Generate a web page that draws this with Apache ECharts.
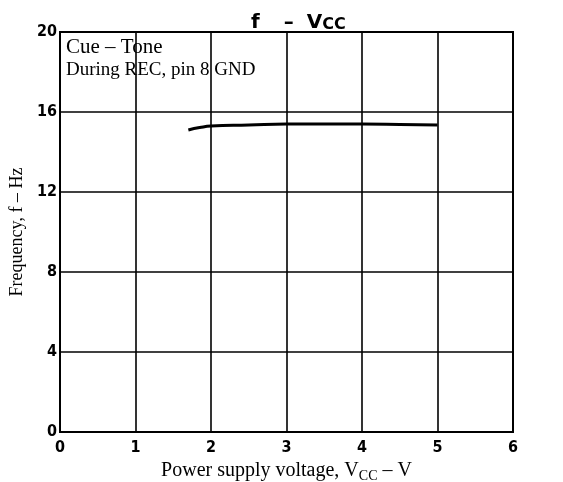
<!DOCTYPE html>
<html>
<head>
<meta charset="utf-8">
<script src="https://cdn.jsdelivr.net/npm/echarts@6/dist/echarts.min.js"></script>
<style>
  html, body { margin: 0; padding: 0; background: #fff; }
  #chart { width: 563px; height: 482px; }
</style>
</head>
<body>
<div id="chart"></div>
<script>
// Supply voltage (V) and resulting cue-tone frequency (Hz)
const vccValues = [1.7, 1.85, 2.0, 2.5, 3.0, 3.5, 4.0, 4.5, 5.0];
const freqValues = [15.1, 15.22, 15.3, 15.35, 15.4, 15.4, 15.4, 15.38, 15.35];
const xTicks = [0, 1, 2, 3, 4, 5, 6];
const yTicks = [0, 4, 8, 12, 16, 20];

const serif = '"Liberation Serif", "DejaVu Serif", serif';
const sans = '"DejaVu Sans", "Liberation Sans", sans-serif';
const condensed = '"DejaVu Sans Condensed", "DejaVu Sans", sans-serif';

const chart = echarts.init(document.getElementById('chart'), null, { renderer: 'canvas' });

chart.setOption({
  backgroundColor: '#fff',
  animation: false,
  title: {
    text: '{m|f}{d|–}{m|V}{s|CC}',
    left: 246,
    top: 3,
    textStyle: {
      rich: {
        m: { fontFamily: sans, fontSize: 20, color: '#000', fontWeight: 'bold', verticalAlign: 'bottom' },
        d: { fontFamily: sans, fontSize: 20, color: '#000', fontWeight: 'bold', padding: [0, 13, 0, 24], verticalAlign: 'bottom' },
        s: { fontFamily: sans, fontSize: 16, color: '#000', fontWeight: 'bold', padding: [9, 0, 0, 0], verticalAlign: 'bottom' }
      }
    }
  },
  grid: { left: 60, right: 50, top: 32, bottom: 50, containLabel: false, outerBoundsMode: 'none' },
  xAxis: {
    type: 'value',
    min: xTicks[0],
    max: xTicks[xTicks.length - 1],
    interval: 1,
    name: '{t|Power supply voltage, V}{s|CC}{t| – V}',
    nameLocation: 'middle',
    nameGap: 23,
    nameTextStyle: {
      rich: {
        t: { fontFamily: serif, fontSize: 20, color: '#000' },
        s: { fontFamily: serif, fontSize: 14, color: '#000', padding: [10, 0, 0, 0] }
      }
    },
    axisLine: { show: true, lineStyle: { color: '#000', width: 2 } },
    axisTick: { show: false },
    axisLabel: { color: '#000', fontFamily: condensed, fontWeight: 'bold', fontSize: 16, margin: 8 },
    splitLine: { show: true, lineStyle: { color: '#000', width: 1.6 } }
  },
  yAxis: {
    type: 'value',
    min: yTicks[0],
    max: yTicks[yTicks.length - 1],
    interval: 4,
    name: 'Frequency, f – Hz',
    nameLocation: 'middle',
    nameGap: 23,
    nameTextStyle: { fontFamily: serif, fontSize: 18, color: '#000' },
    axisLine: { show: true, lineStyle: { color: '#000', width: 2 } },
    axisTick: { show: false },
    axisLabel: { color: '#000', fontFamily: condensed, fontWeight: 'bold', fontSize: 16, margin: 3 },
    splitLine: { show: true, lineStyle: { color: '#000', width: 1.6 } }
  },
  graphic: [
    {
      type: 'rect',
      shape: { x: 60, y: 32, width: 453, height: 400 },
      style: { fill: 'none', stroke: '#000', lineWidth: 2 },
      silent: true,
      z: 10
    },
    {
      type: 'text',
      left: 66,
      top: 37,
      style: { text: 'Cue – Tone', font: '21px ' + serif, fill: '#000' },
      z: 11
    },
    {
      type: 'text',
      left: 66,
      top: 61,
      style: { text: 'During REC, pin 8 GND', font: '19px ' + serif, fill: '#000' },
      z: 11
    }
  ],
  series: [
    {
      type: 'line',
      data: vccValues.map((v, i) => [v, freqValues[i]]),
      smooth: true,
      symbol: 'none',
      lineStyle: { color: '#000', width: 3 },
      z: 5
    }
  ]
});
</script>
</body>
</html>
